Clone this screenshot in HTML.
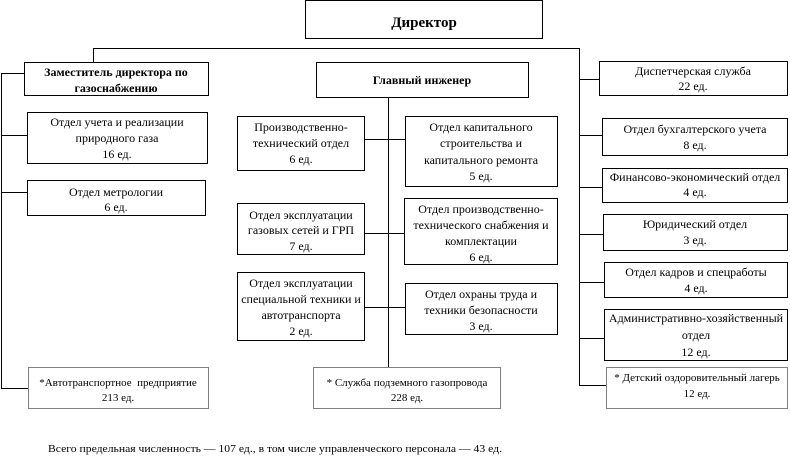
<!DOCTYPE html>
<html><head><meta charset="utf-8"><style>
html,body{margin:0;padding:0;background:#fff;}
svg{display:block;}
text{font-family:"Liberation Serif","Times New Roman",serif;fill:#000;}
.t{font-size:12px;text-anchor:middle;}
.b{font-size:12px;font-weight:bold;text-anchor:middle;}
.s{font-size:11px;text-anchor:middle;}
</style></head><body>
<svg width="790" height="456" viewBox="0 0 790 456" xmlns="http://www.w3.org/2000/svg" shape-rendering="crispEdges">
<g fill="#fff" stroke="#000" stroke-width="1">
<rect x="305.5" y="0.5" width="237" height="38"/>
<rect x="24.5" y="62.5" width="184" height="33"/>
<rect x="27.5" y="112.5" width="180" height="51"/>
<rect x="27.5" y="180.5" width="178" height="35"/>
<rect x="316.5" y="62.5" width="212" height="35"/>
<rect x="237.5" y="116.5" width="127" height="54"/>
<rect x="237.5" y="203.5" width="127" height="51"/>
<rect x="237.5" y="272.5" width="127" height="68"/>
<rect x="405.5" y="116.5" width="152" height="70"/>
<rect x="404.5" y="198.5" width="153" height="66"/>
<rect x="405.5" y="283.5" width="152" height="51"/>
<rect x="599.5" y="61.5" width="188" height="34"/>
<rect x="602.5" y="118.5" width="185" height="37"/>
<rect x="602.5" y="168.5" width="185" height="34"/>
<rect x="603.5" y="214.5" width="184" height="36"/>
<rect x="604.5" y="262.5" width="183" height="35"/>
<rect x="604.5" y="309.5" width="183" height="51"/>
</g>
<g fill="#fff" stroke="#000" stroke-width="1" stroke-dasharray="1,1">
<rect x="28.5" y="367.5" width="180" height="41"/>
<rect x="313.5" y="367.5" width="187" height="41"/>
<rect x="606.5" y="367.5" width="181" height="41"/>
</g>
<g stroke="#000" stroke-width="1" fill="none">
<path d="M93.5 62V48.5H579.5V385.5H606"/>
<path d="M579 79.5H599M579 135.5H602M579 187.5H602M579 234.5H603M579 282.5H604M579 338.5H604"/>
<path d="M24 73.5H1.5V388.5H28M1 135.5H27M1 192.5H27"/>
<path d="M388.5 97V367M364 139.5H406M364 233.5H404M364 307.5H405"/>
</g>

<text x="424" y="27" style="font-size:15px;font-weight:bold;text-anchor:middle">Директор</text>

<text class="b" x="116" y="76">Заместитель директора по</text>
<text class="b" x="116" y="92">газоснабжению</text>

<text class="t" x="117" y="126">Отдел учета и реализации</text>
<text class="t" x="117" y="142">природного газа</text>
<text class="t" x="117" y="158">16 ед.</text>

<text class="t" x="116" y="196">Отдел метрологии</text>
<text class="t" x="116" y="211">6 ед.</text>

<text class="s" x="118" y="386">*Автотранспортное&#160; предприятие</text>
<text class="s" x="118" y="401">213 ед.</text>

<text class="b" x="422" y="84">Главный инженер</text>

<text class="t" x="301" y="131">Производственно-</text>
<text class="t" x="301" y="147">технический отдел</text>
<text class="t" x="301" y="163">6 ед.</text>

<text class="t" x="301" y="219">Отдел эксплуатации</text>
<text class="t" x="301" y="234">газовых сетей и ГРП</text>
<text class="t" x="301" y="250">7 ед.</text>

<text class="t" x="301" y="287">Отдел эксплуатации</text>
<text class="t" x="301" y="303">специальной техники и</text>
<text class="t" x="301" y="319">автотранспорта</text>
<text class="t" x="301" y="335">2 ед.</text>

<text class="t" x="481" y="131">Отдел капитального</text>
<text class="t" x="481" y="147">строительства и</text>
<text class="t" x="481" y="164">капитального ремонта</text>
<text class="t" x="481" y="180">5 ед.</text>

<text class="t" x="481" y="213">Отдел производственно-</text>
<text class="t" x="481" y="229">технического снабжения и</text>
<text class="t" x="481" y="245">комплектации</text>
<text class="t" x="481" y="261">6 ед.</text>

<text class="t" x="481" y="298">Отдел охраны труда и</text>
<text class="t" x="481" y="314">техники безопасности</text>
<text class="t" x="481" y="330">3 ед.</text>

<text class="s" x="407" y="386">* Служба подземного газопровода</text>
<text class="s" x="407" y="401">228 ед.</text>

<text class="t" x="693" y="75">Диспетчерская служба</text>
<text class="t" x="693" y="90">22 ед.</text>

<text class="t" x="695" y="133">Отдел бухгалтерского учета</text>
<text class="t" x="695" y="149">8 ед.</text>

<text class="t" x="695" y="181">Финансово-экономический отдел</text>
<text class="t" x="695" y="196">4 ед.</text>

<text class="t" x="695" y="228">Юридический отдел</text>
<text class="t" x="695" y="244">3 ед.</text>

<text class="t" x="696" y="276">Отдел кадров и спецработы</text>
<text class="t" x="696" y="292">4 ед.</text>

<text class="t" x="696" y="322">Административно-хозяйственный</text>
<text class="t" x="696" y="339">отдел</text>
<text class="t" x="696" y="356">12 ед.</text>

<text class="s" x="697" y="381">* Детский оздоровительный лагерь</text>
<text class="s" x="697" y="397">12 ед.</text>

<text x="48" y="452" style="font-size:10.5px" textLength="454" lengthAdjust="spacingAndGlyphs">Всего предельная численность — 107 ед., в том числе управленческого персонала — 43 ед.</text>
</svg>
</body></html>
